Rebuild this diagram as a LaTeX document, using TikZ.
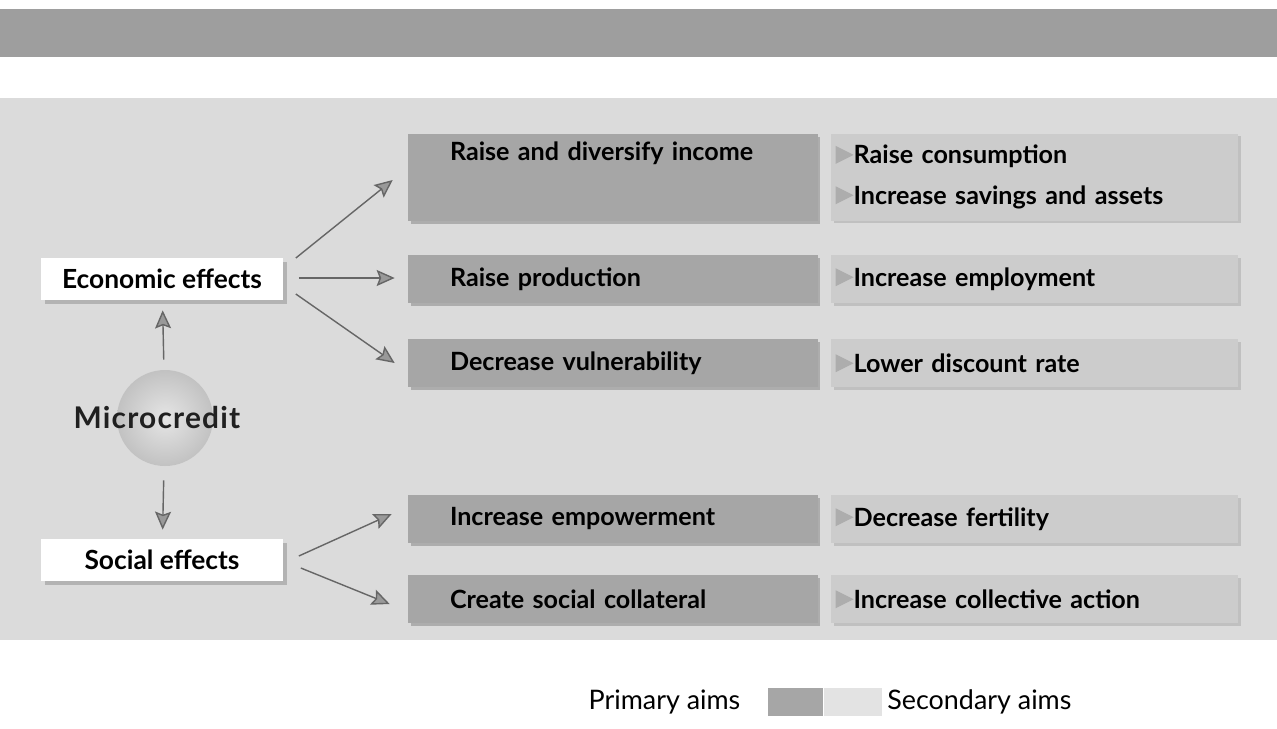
\documentclass[tikz,border=0pt]{standalone}
\usepackage{fontspec}
\setmainfont{Lato}
\usetikzlibrary{arrows.meta,positioning,shadows}
\definecolor{panelgray}{gray}{0.86}
\definecolor{bargray}{gray}{0.62}
\definecolor{primfill}{gray}{0.65}
\definecolor{secfill}{gray}{0.80}
\definecolor{linegray}{gray}{0.40}
\definecolor{tipgray}{gray}{0.60}
\newcommand{\aim}{\tikz[x=1cm, y=1cm, baseline=0pt]\fill[tipgray!80] (0,0.0) -- (0,0.36) -- (0.36,0.18) -- cycle;}

\begin{document}
\begin{tikzpicture}[
    x=0.02cm, y=-0.02cm,
    font=\fontsize{14.3}{17}\selectfont\bfseries,
    primary/.style={rectangle, fill=primfill, minimum width=8.2cm, minimum height=0.96cm, text width=6.52cm, inner xsep=0.84cm, align=left, drop shadow={shadow xshift=0.05cm, shadow yshift=-0.06cm, fill=gray, opacity=0.5}},
    secondary/.style={rectangle, fill=secfill, minimum width=8.14cm, minimum height=0.96cm, text width=7.94cm, inner xsep=0.1cm, align=left, drop shadow={shadow xshift=0.06cm, shadow yshift=-0.05cm, fill=gray!80, opacity=0.4}},
    twoline/.style={minimum height=1.74cm, font=\fontsize{14.3}{23}\selectfont\bfseries},
    effect/.style={rectangle, fill=white, minimum width=4.86cm, minimum height=0.84cm, font=\fontsize{15}{18}\selectfont\bfseries, drop shadow={shadow xshift=0.08cm, shadow yshift=-0.08cm, fill=gray!80, opacity=0.6}},
    ball/.style={circle, minimum size=1.92cm, inner color=gray!20, outer color=gray!48},
    microlabel/.style={font=\fontsize{17}{20}\selectfont\bfseries\addfontfeatures{LetterSpace=4}, text=gray!25!black},
    arrow/.style={-{Stealth[length=0.36cm, width=0.32cm, inset=0.06cm, fill=tipgray]}, thick, linegray},
    swatch/.style={rectangle, minimum height=0.56cm},
    legend/.style={font=\fontsize{15.3}{18}\selectfont\mdseries, inner sep=0pt}
  ]
  \useasboundingbox (0,0) rectangle (1277,728);
  \fill[bargray] (0,9) rectangle (1277,57);
  \fill[panelgray] (0,98) rectangle (1277,640);

  \node[primary, twoline] (income) at (613,177) {Raise and diversify income\\\strut};
  \node[secondary, twoline, right=0.24cm of income] (consume) {\aim Raise consumption\\\aim Increase savings and assets};
  \node[primary] (produce) at (613,279) {Raise production};
  \node[secondary, right=0.24cm of produce] (employ) {\aim Increase employment};
  \node[primary] (vulner) at (613,363) {Decrease vulnerability};
  \node[secondary, right=0.24cm of vulner] (discount) {\aim Lower discount rate};
  \node[primary] (empower) at (613,519) {Increase empowerment};
  \node[secondary, right=0.24cm of empower] (fertility) {\aim Decrease fertility};
  \node[primary] (collateral) at (613,599) {Create social collateral};
  \node[secondary, right=0.24cm of collateral] (collective) {\aim Increase collective action};

  \node[effect] (econ) at (162,279) {Economic effects};
  \node[ball, label={[microlabel, xshift=-0.16cm]center:Microcredit}] (micro) at (165,418) {};
  \node[effect] (social) at (162,560) {Social effects};

  \draw[arrow, shorten <=0.2cm, shorten >=0.2cm] (micro) -- (econ);
  \draw[arrow, shorten <=0.28cm, shorten >=0.18cm] (micro) -- (social);

  \draw[arrow] ([shift={(12,-21)}]econ.east) -- ([shift={(-15,3)}]income.west);
  \draw[arrow] ([shift={(15,-1)}]econ.east) -- ([shift={(-13,-1)}]produce.west);
  \draw[arrow] ([shift={(12,15)}]econ.east) -- ([shift={(-13,0)}]vulner.west);
  \draw[arrow] ([shift={(15,-4)}]social.east) -- ([shift={(-16,-5)}]empower.west);
  \draw[arrow] ([shift={(17,8)}]social.east) -- ([shift={(-18,5)}]collateral.west);

  \node[swatch, minimum width=1.1cm, fill=primfill] (swprim) at (795.5,702) {};
  \node[swatch, minimum width=1.16cm, fill=secfill!55!white, right=0pt of swprim] (swsec) {};
  \node[legend, left=0.54cm of swprim] (primlabel) {Primary aims};
  \node[legend, right=0.1cm of swsec] (seclabel) {Secondary aims};
\end{tikzpicture}
\end{document}
